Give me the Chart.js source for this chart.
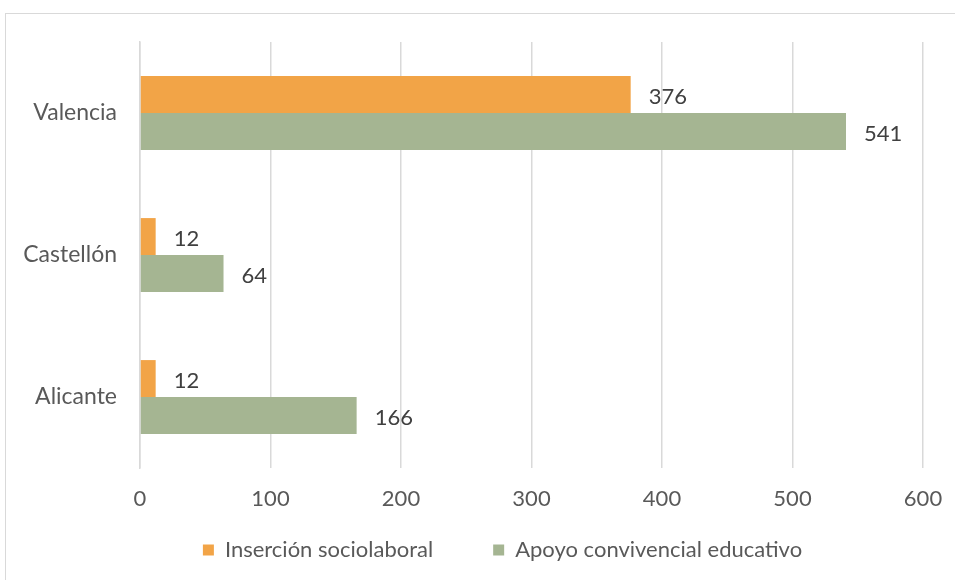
<!DOCTYPE html>
<html>
<head>
<meta charset="utf-8">
<script src="https://cdn.jsdelivr.net/npm/chart.js@4"></script>
<style>
    body { margin: 0; background: #fff; }
    #wrap { position: relative; width: 955px; height: 580px; }
    #frame { position: absolute; left: 5px; top: 13px; width: 960px; height: 600px; border: 1px solid #d9d9d9; box-sizing: border-box; pointer-events: none; }
</style>
</head>
<body>
<div id="wrap">
    <canvas id="barChart" width="955" height="580"></canvas>
    <div id="frame"></div>
</div>
<script>
const provinces = ["Valencia", "Castellón", "Alicante"];
const insercion = [376, 12, 12];
const apoyo = [541, 64, 166];
const xTicks = [0, 100, 200, 300, 400, 500, 600];

const FONT = "Lato, 'Open Sans', sans-serif";
const LEGEND_PAD = 60;

// write the value to the right of each bar
const valueLabels = {
    id: "valueLabels",
    afterDatasetsDraw(chart) {
        const ctx = chart.ctx;
        ctx.save();
        ctx.font = "22px " + FONT;
        ctx.fillStyle = "#404040";
        ctx.textBaseline = "middle";
        ctx.textAlign = "left";
        chart.data.datasets.forEach((ds, i) => {
            chart.getDatasetMeta(i).data.forEach((bar, j) => {
                ctx.fillText(String(ds.data[j]), bar.x + 18, bar.y + 2);
            });
        });
        ctx.restore();
    }
};

// wide gap between legend items but keep the row close to the axis
const legendShift = {
    id: "legendShift",
    afterLayout(chart) {
        chart.legend.top = 539 - LEGEND_PAD;
        chart.legend.left += 82;
    }
};

new Chart(document.getElementById("barChart").getContext("2d"), {
    type: "bar",
    data: {
        labels: provinces,
        datasets: [{
            label: "Inserción sociolaboral",
            data: insercion,
            backgroundColor: "#f2a447"
        }, {
            label: "Apoyo convivencial educativo",
            data: apoyo,
            backgroundColor: "#a5b592"
        }]
    },
    options: {
        indexAxis: "y",
        responsive: false,
        animation: false,
        categoryPercentage: 0.52,
        barPercentage: 1.0,
        layout: { padding: { top: 42, right: 32, bottom: 12, left: 0 } },
        scales: {
            x: {
                min: 0,
                max: 600,
                afterBuildTicks: axis => { axis.ticks = xTicks.map(v => ({ value: v })); },
                afterFit: axis => {
                    axis.height = 50;
                    axis.paddingLeft = 0;
                    axis.paddingRight = 0;
                },
                grid: { color: "#d9d9d9", lineWidth: 1.5, drawTicks: false },
                border: { display: false },
                ticks: { color: "#595959", font: { family: FONT, size: 22 }, padding: 18 }
            },
            y: {
                afterFit: axis => { axis.width = 140; },
                grid: { display: false },
                border: { display: true, color: "#d9d9d9", width: 1.5 },
                ticks: { color: "#595959", font: { family: FONT, size: 23 }, padding: 15 }
            }
        },
        plugins: {
            legend: {
                position: "bottom",
                maxHeight: 50,
                labels: {
                    color: "#595959",
                    font: { family: FONT, size: 22 },
                    boxWidth: 11,
                    boxHeight: 11,
                    padding: LEGEND_PAD
                }
            },
            tooltip: { enabled: false }
        }
    },
    plugins: [valueLabels, legendShift]
});
</script>
</body>
</html>
